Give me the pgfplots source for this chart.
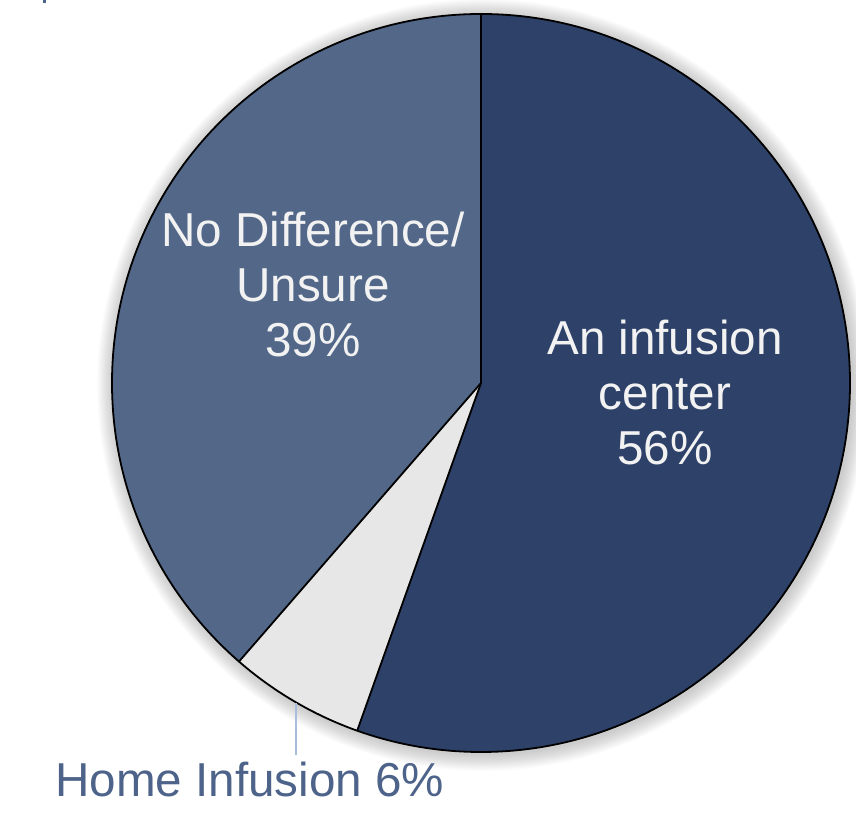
\documentclass[border=0pt]{standalone}
\usepackage{pgfplots}
\pgfplotsset{compat=1.18}
\usepackage{fontspec}
\setmainfont{Liberation Sans}
\definecolor{cDark}{HTML}{2E4169}
\definecolor{cMid}{HTML}{536889}
\definecolor{cLight}{HTML}{E7E7E7}
\definecolor{cText}{HTML}{F2F2F2}
\definecolor{cHome}{HTML}{4E6389}
\definecolor{cLead}{HTML}{A9BCDC}
% pie data (percent)
\def\vInf{56}
\def\vHome{6}
\def\vNo{39}
\begin{document}
\begin{tikzpicture}
\pgfmathsetmacro{\tot}{\vInf+\vHome+\vNo}
\pgfmathsetmacro{\aA}{90}
\pgfmathsetmacro{\aB}{90-\vInf/\tot*360}
\pgfmathsetmacro{\aC}{\aB-\vHome/\tot*360}
\pgfmathsetmacro{\aD}{\aC-\vNo/\tot*360}
\begin{axis}[name=ax,
  width=856pt, height=826pt, scale only axis,
  xmin=0, xmax=856, ymin=0, ymax=826,
  hide axis, clip=false,
]
\path (rel axis cs:0,0) rectangle (rel axis cs:1,1);
% soft shadow
\pgfplotsinvokeforeach{1,...,14}{
  \fill[black, opacity=0.014] (axis cs:483,441) circle[radius={369pt+#1*1.2pt}];
}
\fill[white] (axis cs:40,396) rectangle (axis cs:88,476);
% slices
\fill[cDark] (axis cs:481,443) -- ++(\aA:369pt) arc[start angle=\aA, end angle=\aB, radius=369pt] -- cycle;
\fill[cLight] (axis cs:481,443) -- ++(\aB:369pt) arc[start angle=\aB, end angle=\aC, radius=369pt] -- cycle;
\fill[cMid] (axis cs:481,443) -- ++(\aC:369pt) arc[start angle=\aC, end angle=\aD, radius=369pt] -- cycle;
\draw[black, line width=1.8pt] (axis cs:481,443) circle[radius=369pt];
\draw[black, line width=1.8pt] (axis cs:481,443) -- ++(\aA:369pt);
\draw[black, line width=1.8pt] (axis cs:481,443) -- ++(\aB:369pt);
\draw[black, line width=1.8pt] (axis cs:481,443) -- ++(\aC:369pt);
% labels
\begin{scope}[every node/.style={inner sep=0pt, font=\fontsize{47.6}{57}\selectfont}]
\node[text=cText, anchor=base] at (axis cs:313,579) {No Difference/};
\node[text=cText, anchor=base] at (axis cs:313,524) {Unsure};
\node[text=cText, anchor=base] at (axis cs:313,469) {39\%};
\node[text=cText, anchor=base] at (axis cs:665,471) {An infusion};
\node[text=cText, anchor=base] at (axis cs:665,416) {center};
\node[text=cText, anchor=base] at (axis cs:665,361) {56\%};
\node[text=cHome, anchor=base west] at (axis cs:55,29) {Home Infusion 6\%};
\end{scope}
\draw[cLead, line width=1.3pt] (axis cs:296,123) -- (axis cs:296,71);
\fill[cHome] (axis cs:43,823) rectangle (axis cs:46,826);
\end{axis}
\pgfresetboundingbox
\path (ax.south west) rectangle (ax.north east);
\end{tikzpicture}
\end{document}
